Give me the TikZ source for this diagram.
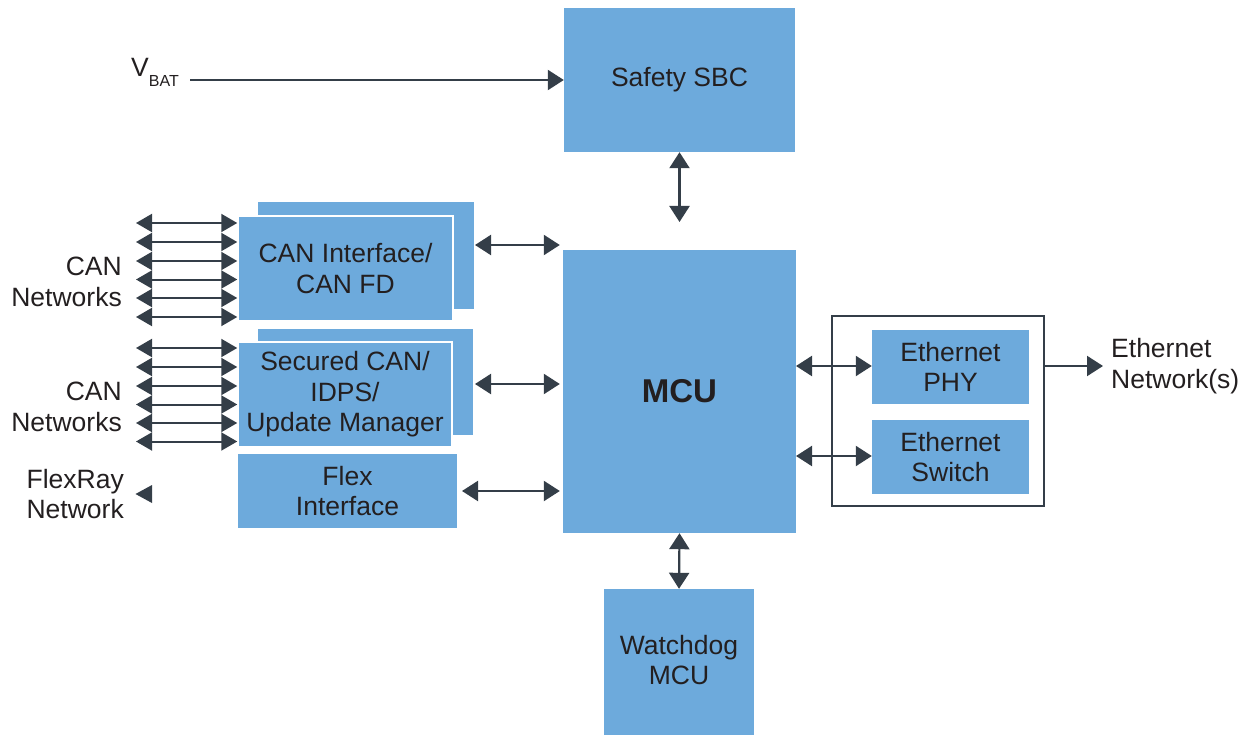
\documentclass[tikz,border=0pt]{standalone}
\usepackage{fontspec}
\setmainfont{Liberation Sans}
\usetikzlibrary{arrows.meta}
\definecolor{boxblue}{RGB}{109,170,220}
\definecolor{arrowc}{RGB}{52,62,72}
\definecolor{txt}{RGB}{35,31,32}
\tikzset{
  box/.style={fill=boxblue, draw=none, inner sep=0pt, text=txt, align=center,
              font=\fontsize{26.5}{30.5}\selectfont},
  frontbox/.style={box, draw=white, line width=1.5pt},
  lbl/.style={inner sep=0pt, text=txt, font=\fontsize{26.5}{30.5}\selectfont},
  dbl/.style={draw=arrowc, line width=2.2pt, {Triangle[length=16pt,width=20pt]}-{Triangle[length=16pt,width=20pt]}},
  sgl/.style={draw=arrowc, line width=2.2pt, -{Triangle[length=16pt,width=20pt]}},
  canln/.style={draw=arrowc, line width=2pt, {Triangle[length=16pt,width=18pt]}-{Triangle[length=16pt,width=18pt]}},
}
\begin{document}
\begin{tikzpicture}[x=1pt,y=-1pt]
\useasboundingbox (0,0) rectangle (1252,735);

% main blocks
\node[box, minimum width=231pt, minimum height=144pt] (sbc) at (679.5,80) {Safety SBC};
\node[box, minimum width=233pt, minimum height=283pt, font=\fontsize{33}{36}\selectfont\bfseries] (mcu) at (679.5,391.5) {MCU};
\node[box, minimum width=150pt, minimum height=148pt] (wd) at (679,663) {};
\node[box, fill=none] (wdt) at (679,660) {Watchdog\\MCU};

% CAN interface (stacked)
\node[box, minimum width=216pt, minimum height=107pt] (canback) at (366,255.5) {};
\node[frontbox, minimum width=215pt, minimum height=105pt] (canif) at (345.5,268.5) {CAN Interface/\\CAN FD};

% Secured CAN (stacked)
\node[box, minimum width=215pt, minimum height=106pt] (secback) at (365.5,382) {};
\node[frontbox, minimum width=214pt, minimum height=105pt] (sec) at (345,394.5) {Secured CAN/\\IDPS/\\Update Manager};

% Flex interface
\node[box, minimum width=219pt, minimum height=74pt] (flex) at (347.5,491) {Flex\\Interface};

% Ethernet group
\node[draw=arrowc, line width=1.6pt, minimum width=212pt, minimum height=190pt, inner sep=0pt] (ethgrp) at (938,411) {};
\node[box, minimum width=157pt, minimum height=74pt] (phy) at (950.5,367) {Ethernet\\PHY};
\node[box, minimum width=157pt, minimum height=74pt] (sw) at (950.5,457) {Ethernet\\Switch};

% labels
\node[lbl, anchor=base west] (vbat) at (131,77) {V\raisebox{-10pt}{\fontsize{16}{16}\selectfont BAT}};
\node[lbl, anchor=east, align=right] (can1) at (122,282) {CAN\\Networks};
\node[lbl, anchor=east, align=right] (can2) at (122,407) {CAN\\Networks};
\node[lbl, anchor=east, align=right] (fr) at (124,494) {FlexRay\\Network};
\node[lbl, anchor=west, align=left] (ethnet) at (1111,366) {Ethernet\\Network(s)};

% connectors
\coordinate (vbs) at (190,80);
\draw[sgl] (vbs) -- (sbc.west |- vbs);
\coordinate (sbcm) at (679.5,222);
\draw[dbl] (sbc.south) -- (sbcm);
\draw[dbl] (mcu.south) -- (wd.north);

\coordinate (c1) at (475,245);
\draw[dbl] (c1) -- ([xshift=-3pt]mcu.west |- c1);
\coordinate (c2) at (475,384);
\draw[dbl] (c2) -- ([xshift=-3pt]mcu.west |- c2);
\coordinate (c3) at (462,491);
\draw[dbl] (c3) -- ([xshift=-3pt]mcu.west |- c3);

\coordinate (e1) at (796,366);
\draw[dbl] (e1) -- (phy.west |- e1);
\coordinate (e2) at (796,456);
\draw[dbl] (e2) -- (sw.west |- e2);
\coordinate (eo) at (1103,366);
\draw[sgl] (ethgrp.east |- eo) -- (eo);

% CAN network lines
\foreach \i/\y in {1/223,2/242,3/261,4/279.5,5/298,6/317}{
  \coordinate (ca\i) at (136,\y);
  \draw[canln] (ca\i) -- (canif.west |- ca\i);
}
\foreach \i/\y in {1/348,2/367,3/386,4/404.5,5/423,6/441.5}{
  \coordinate (cb\i) at (136,\y);
  \draw[canln] (cb\i) -- (sec.west |- cb\i);
}

% FlexRay arrowhead
\fill[arrowc] (135.5,494) -- (152,485) -- (152,503) -- cycle;
\end{tikzpicture}
\end{document}
